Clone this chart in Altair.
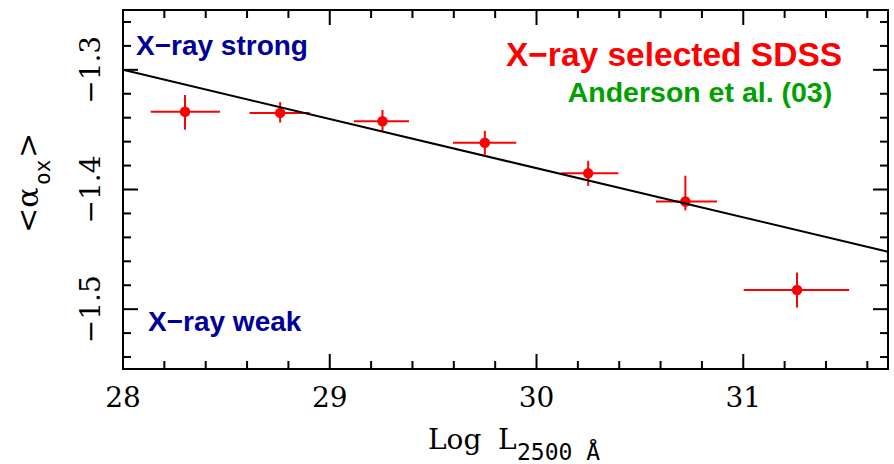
import altair as alt
import pandas as pd

# ---- data ----
lum = [28.30, 28.76, 29.255, 29.75, 30.25, 30.72, 31.26]
lum_lo = [28.134, 28.612, 29.117, 29.596, 30.119, 30.578, 31.002]
lum_hi = [28.469, 28.903, 29.383, 29.902, 30.396, 30.873, 31.512]
aox = [-1.335, -1.336, -1.343, -1.361, -1.3865, -1.410, -1.484]
aox_lo = [-1.350, -1.344, -1.351, -1.371, -1.397, -1.4175, -1.4987]
aox_hi = [-1.321, -1.327, -1.3335, -1.351, -1.376, -1.3885, -1.4694]

fit_x = [28.0, 31.7]
fit_y = [-1.300, -1.452]

x_major = [28, 29, 30, 31]
x_labels = ["28", "29", "30", "31"]
x_minor = [28.2, 28.4, 28.6, 28.8, 29.2, 29.4, 29.6, 29.8,
           30.2, 30.4, 30.6, 30.8, 31.2, 31.4, 31.6]
y_major = [-1.5, -1.4, -1.3]
y_labels = ["\u22121.5", "\u22121.4", "\u22121.3"]
y_minor = [-1.54, -1.52, -1.48, -1.46, -1.44, -1.42, -1.38, -1.36,
           -1.34, -1.32, -1.28, -1.26]

W, H = 765, 359

pts = pd.DataFrame({"lum": lum, "lo": lum_lo, "hi": lum_hi,
                    "aox": aox, "ylo": aox_lo, "yhi": aox_hi})
fit = pd.DataFrame({"x": fit_x, "y": fit_y})

xs = alt.Scale(domain=[28, 31.7], nice=False, zero=False)
ys = alt.Scale(domain=[-1.55, -1.25], nice=False, zero=False)

RED = "#ff0000"
BLUE = "#00009b"
GREEN = "#00a000"

xerr = alt.Chart(pts).mark_rule(color=RED, strokeWidth=2).encode(
    x=alt.X("lo:Q", scale=xs, axis=None), x2="hi:Q",
    y=alt.Y("aox:Q", scale=ys, axis=None))
yerr = alt.Chart(pts).mark_rule(color=RED, strokeWidth=2).encode(
    x=alt.X("lum:Q", scale=xs, axis=None),
    y=alt.Y("ylo:Q", scale=ys, axis=None), y2="yhi:Q")
dots = alt.Chart(pts).mark_circle(color=RED, size=110, opacity=1).encode(
    x=alt.X("lum:Q", scale=xs, axis=None),
    y=alt.Y("aox:Q", scale=ys, axis=None))
line = alt.Chart(fit).mark_line(color="black", strokeWidth=2).encode(
    x=alt.X("x:Q", scale=xs, axis=None),
    y=alt.Y("y:Q", scale=ys, axis=None))


def xticks(vals, length, top):
    df = pd.DataFrame({"v": vals})
    if top:
        y1, y2 = 0, length
    else:
        y1, y2 = H, H - length
    return alt.Chart(df).mark_rule(color="black", strokeWidth=2).encode(
        x=alt.X("v:Q", scale=xs, axis=None),
        y=alt.value(y1), y2=alt.value(y2))


def yticks(vals, length, right):
    df = pd.DataFrame({"v": vals})
    if right:
        x1, x2 = W, W - length
    else:
        x1, x2 = 0, length
    return alt.Chart(df).mark_rule(color="black", strokeWidth=2).encode(
        y=alt.Y("v:Q", scale=ys, axis=None),
        x=alt.value(x1), x2=alt.value(x2))


ticks = [xticks(x_major, 15, False), xticks(x_major, 15, True),
         xticks(x_minor, 8, False), xticks(x_minor, 8, True),
         yticks(y_major, 15, False), yticks(y_major, 15, True),
         yticks(y_minor, 8, False), yticks(y_minor, 8, True)]

# tick labels
xlab = alt.Chart(pd.DataFrame({"v": x_major, "t": x_labels})).mark_text(
    font="DejaVu Serif", fontSize=28, color="black", align="center",
    baseline="alphabetic").encode(
    x=alt.X("v:Q", scale=xs, axis=None), y=alt.value(H + 38), text="t:N")
ylab = alt.Chart(pd.DataFrame({"v": y_major, "t": y_labels})).mark_text(
    font="DejaVu Serif", fontSize=28, color="black", align="center",
    baseline="alphabetic", angle=270).encode(
    y=alt.Y("v:Q", scale=ys, axis=None), x=alt.value(-23), text="t:N")


def note(txt, x, y, color, size, align):
    df = pd.DataFrame({"x": [x], "y": [y], "t": [txt]})
    return alt.Chart(df).mark_text(
        font="Liberation Sans", fontWeight="bold", fontSize=size, color=color,
        align=align, baseline="alphabetic").encode(
        x=alt.X("x:Q", scale=xs, axis=None),
        y=alt.Y("y:Q", scale=ys, axis=None),
        text="t:N")


notes = [
    note("X\u2212ray strong", 28.063, -1.2872, BLUE, 28, "left"),
    note("X\u2212ray weak", 28.121, -1.5179, BLUE, 28, "left"),
    note("X\u2212ray selected SDSS", 31.478, -1.2972, RED, 33.5, "right"),
    note("Anderson et al. (03)", 31.43, -1.3265, GREEN, 28.5, "right"),
]


def label(txt, px, py, font, size, angle=0):
    df = pd.DataFrame({"t": [txt]})
    kw = dict(font=font, fontSize=size, color="black", align="left",
              baseline="alphabetic")
    if angle:
        kw["angle"] = angle
    return alt.Chart(df).mark_text(**kw).encode(
        x=alt.value(px), y=alt.value(py), text="t:N")


titles = [
    label("Log", 305, 439, "DejaVu Serif", 28),
    label("L", 375, 439, "DejaVu Serif", 28),
    label("2500 \u00c5", 394, 450, "DejaVu Sans Mono", 23),
    label("<\u03b1", -85, 223, "DejaVu Serif", 30, 270),
    label("ox", -73, 175, "DejaVu Sans Mono", 21, 270),
    label(">", -85, 148, "DejaVu Serif", 30, 270),
]

chart = alt.layer(xerr, yerr, dots, line, *ticks, xlab, ylab,
                  *notes, *titles).properties(
    width=W, height=H,
    autosize=alt.AutoSizeParams(type="none"),
    padding={"left": 123, "top": 10, "right": 6, "bottom": 95},
    background="white",
).configure_view(stroke="black", strokeWidth=2)

chart.save("out.html", embed_options={"renderer": "svg", "actions": False})
